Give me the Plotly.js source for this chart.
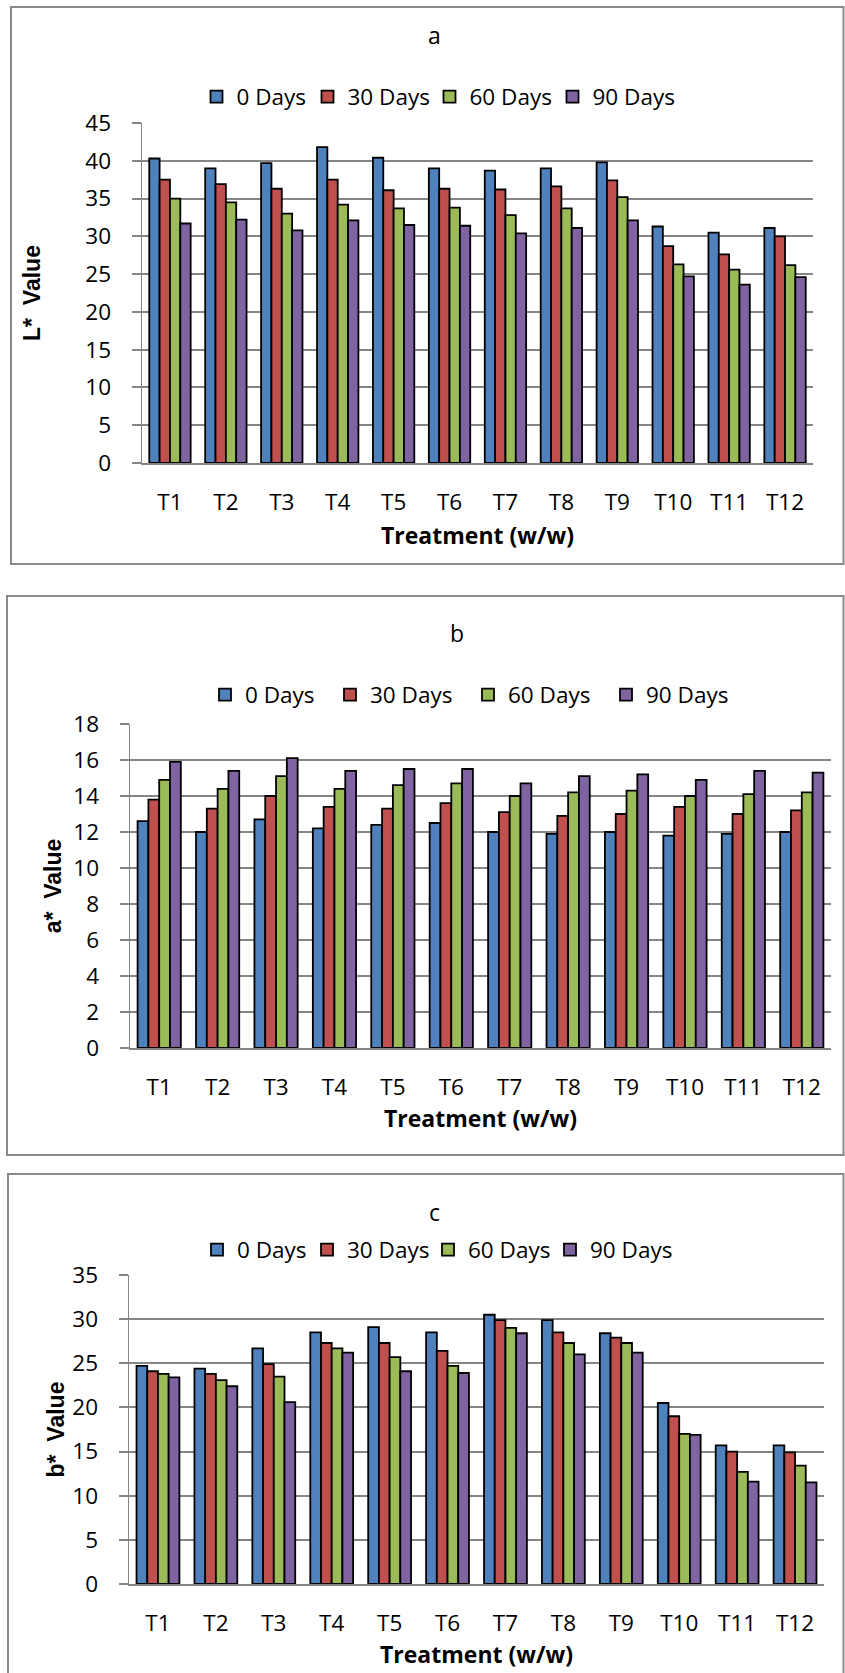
<!DOCTYPE html>
<html>
<head>
<meta charset="utf-8">
<script src="https://cdn.plot.ly/plotly-3.0.1.min.js"></script>
<style>
  html, body { margin: 0; padding: 0; background: #ffffff; }
  #chart { width: 845px; height: 1673px; }
</style>
</head>
<body>
<div id="chart"></div>
<script>
// ---------- data ----------
const categories = ['T1', 'T2', 'T3', 'T4', 'T5', 'T6', 'T7', 'T8', 'T9', 'T10', 'T11', 'T12'];
const seriesNames = ['0 Days', '30 Days', '60 Days', '90 Days'];

// Panel a : L* value
const L_0days  = [40.3, 39.0, 39.7, 41.8, 40.4, 39.0, 38.7, 39.0, 39.8, 31.3, 30.5, 31.1];
const L_30days = [37.5, 36.9, 36.3, 37.5, 36.1, 36.3, 36.2, 36.6, 37.4, 28.7, 27.6, 30.0];
const L_60days = [35.0, 34.5, 33.0, 34.2, 33.7, 33.8, 32.8, 33.7, 35.2, 26.3, 25.6, 26.2];
const L_90days = [31.7, 32.2, 30.8, 32.1, 31.5, 31.4, 30.4, 31.1, 32.1, 24.7, 23.6, 24.6];

// Panel b : a* value
const a_0days  = [12.6, 12.0, 12.7, 12.2, 12.4, 12.5, 12.0, 11.9, 12.0, 11.8, 11.9, 12.0];
const a_30days = [13.8, 13.3, 14.0, 13.4, 13.3, 13.6, 13.1, 12.9, 13.0, 13.4, 13.0, 13.2];
const a_60days = [14.9, 14.4, 15.1, 14.4, 14.6, 14.7, 14.0, 14.2, 14.3, 14.0, 14.1, 14.2];
const a_90days = [15.9, 15.4, 16.1, 15.4, 15.5, 15.5, 14.7, 15.1, 15.2, 14.9, 15.4, 15.3];

// Panel c : b* value
const b_0days  = [24.7, 24.4, 26.7, 28.5, 29.1, 28.5, 30.5, 29.9, 28.4, 20.5, 15.7, 15.7];
const b_30days = [24.1, 23.8, 24.9, 27.3, 27.3, 26.4, 29.9, 28.5, 27.9, 19.0, 15.0, 14.9];
const b_60days = [23.8, 23.1, 23.5, 26.7, 25.7, 24.7, 29.0, 27.3, 27.3, 17.0, 12.7, 13.4];
const b_90days = [23.4, 22.4, 20.6, 26.2, 24.1, 23.9, 28.4, 26.0, 26.2, 16.9, 11.6, 11.5];

const panelTitles = ['a', 'b', 'c'];
const yTitles = ['L*\u00a0 Value', 'a*\u00a0 Value', 'b*\u00a0 Value'];
const xTitle = 'Treatment (w/w)';

// ---------- style / layout ----------
const W = 845, H = 1673;
const colors = ['#4F81BD', '#C0504D', '#9BBB59', '#8064A2'];
const gridGray = '#858585';
const fx = px => px / W;
const fy = py => 1 - py / H;

const panels = [
  { values: [L_0days, L_30days, L_60days, L_90days], range: [0, 45], dtick: 5,
    plot: { x0: 142, x1: 813, y0: 123, y1: 463 },
    title: { x: 434, y: 35 }, legend: { x: 437, y: 97 }, legendWidths: [66, 77, 78, 80],
    ytStandoff: 38, xtStandoff: 12, frame: { x0: 11, y0: 7, y1: 564 } },
  { values: [a_0days, a_30days, a_60days, a_90days], range: [0, 18], dtick: 2,
    plot: { x0: 130, x1: 831, y0: 724, y1: 1048 },
    title: { x: 457, y: 633 }, legend: { x: 468, y: 695 }, legendWidths: [80, 93, 93, 80],
    ytStandoff: 5, xtStandoff: 8, frame: { x0: 7, y0: 596, y1: 1155 } },
  { values: [b_0days, b_30days, b_60days, b_90days], range: [0, 35], dtick: 5,
    plot: { x0: 129, x1: 824, y0: 1275, y1: 1584 },
    title: { x: 434, y: 1212 }, legend: { x: 436, y: 1250 }, legendWidths: [65, 76, 77, 80],
    ytStandoff: 1, xtStandoff: 10, frame: { x0: 8, y0: 1174, y1: 1680 } }
];

const tickFont = { family: 'Open Sans, sans-serif', size: 22.5, color: '#000000' };
const data = [];
const layout = {
  width: W, height: H,
  margin: { l: 0, r: 0, t: 0, b: 0, pad: 0 },
  paper_bgcolor: '#ffffff', plot_bgcolor: '#ffffff',
  barmode: 'group', bargap: 0.26, bargroupgap: 0,
  showlegend: true,
  hovermode: false,
  annotations: [],
  shapes: []
};

panels.forEach((p, i) => {
  const sfx = i === 0 ? '' : String(i + 1);
  const legendId = 'legend' + sfx;
  p.values.forEach((vals, s) => {
    data.push({
      type: 'bar',
      x: categories,
      y: vals,
      name: seriesNames[s],
      xaxis: 'x' + sfx,
      yaxis: 'y' + sfx,
      legend: legendId,
      legendwidth: p.legendWidths[s],
      marker: { color: colors[s], line: { color: '#000000', width: 1.8 } }
    });
  });

  layout['xaxis' + sfx] = {
    domain: [fx(p.plot.x0), fx(p.plot.x1)],
    anchor: 'y' + sfx,
    type: 'category',
    showgrid: false,
    showline: true, linecolor: gridGray, linewidth: 2,
    ticks: '',
    ticklabelstandoff: 18,
    tickfont: tickFont,
    fixedrange: true,
    title: { text: xTitle, font: { family: 'Open Sans, sans-serif', size: 23, weight: 700, color: '#000000' }, standoff: p.xtStandoff }
  };
  layout['yaxis' + sfx] = {
    domain: [fy(p.plot.y1), fy(p.plot.y0)],
    anchor: 'x' + sfx,
    range: p.range,
    dtick: p.dtick,
    tick0: 0,
    showgrid: true, gridcolor: gridGray, gridwidth: 2,
    zeroline: false,
    showline: true, linecolor: gridGray, linewidth: 1.5,
    ticks: 'outside', ticklen: 9, tickwidth: 2, tickcolor: gridGray,
    ticklabelstandoff: 16,
    tickfont: tickFont,
    fixedrange: true,
    title: { text: yTitles[i], font: { family: 'Liberation Sans, Arial, sans-serif', size: 23, weight: 700, color: '#000000' }, standoff: p.ytStandoff }
  };
  layout[legendId] = {
    orientation: 'h',
    x: fx(p.legend.x), xanchor: 'center',
    y: fy(p.legend.y), yanchor: 'middle',
    font: { family: 'Open Sans, sans-serif', size: 22.5, color: '#000000' },
    bgcolor: 'rgba(0,0,0,0)',
    itemwidth: 30,
    tracegroupgap: 0
  };
  layout.annotations.push({
    text: panelTitles[i],
    xref: 'paper', yref: 'paper',
    x: fx(p.title.x), y: fy(p.title.y),
    xanchor: 'center', yanchor: 'middle',
    showarrow: false,
    font: { family: 'Open Sans, sans-serif', size: 23, color: '#000000' }
  });
  layout.shapes.push({
    type: 'rect', xref: 'paper', yref: 'paper',
    x0: fx(p.frame.x0), x1: fx(843.5), y0: fy(p.frame.y1), y1: fy(p.frame.y0),
    line: { color: '#8a8a8a', width: 2 }, fillcolor: 'rgba(0,0,0,0)', layer: 'below'
  });
});

Plotly.newPlot('chart', data, layout, { staticPlot: true, displayModeBar: false });
</script>
</body>
</html>
